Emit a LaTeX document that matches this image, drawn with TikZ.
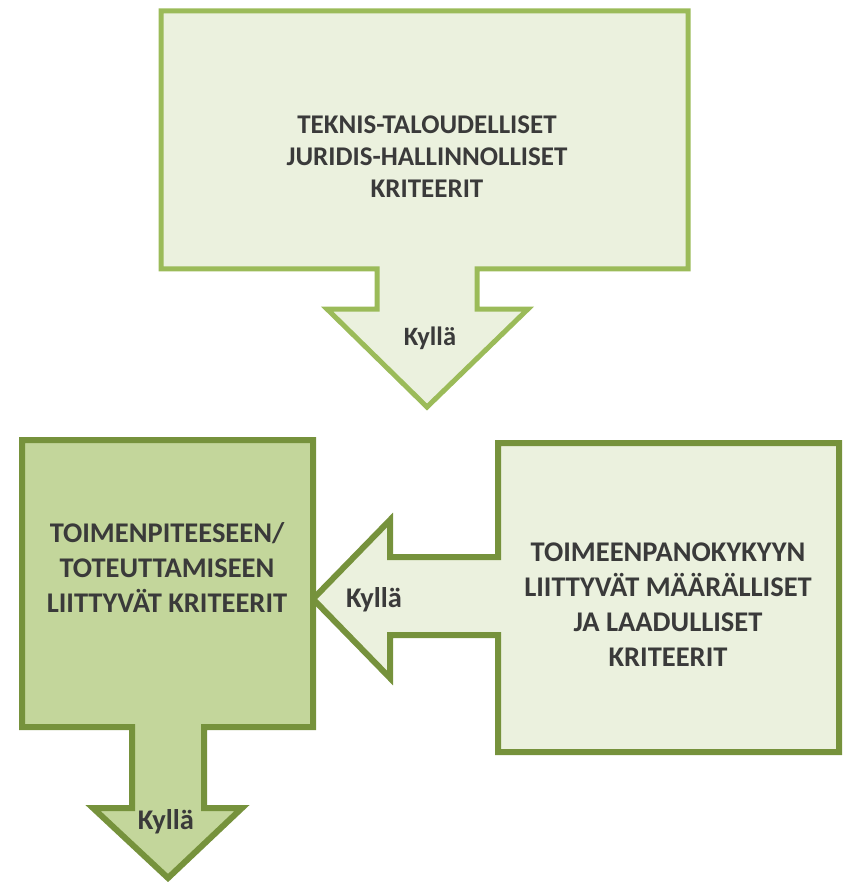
\documentclass[tikz,border=0pt]{standalone}
\usepackage{fontspec}
\setmainfont{Carlito}
\definecolor{lightline}{HTML}{9BBB59}
\definecolor{darkline}{HTML}{76923C}
\definecolor{paleFill}{HTML}{EBF1DE}
\definecolor{midFill}{HTML}{C3D69B}
\definecolor{txt}{HTML}{3A3A3A}
\begin{document}
\begin{tikzpicture}[x=1pt,y=-1pt,
    label/.style={text=txt,font=\fontsize{28.5}{35}\selectfont\bfseries,align=center,inner sep=0pt},
    toplabel/.style={label,font=\fontsize{27}{32}\selectfont\bfseries},
    yes/.style={text=txt,font=\fontsize{28.5}{30}\selectfont\bfseries,inner sep=0pt}]
    \useasboundingbox (0,0) rectangle (845,882);

    \draw[line width=5pt,draw=lightline,fill=paleFill] (161,11) -- (688,11) -- (688,269) -- (477,269) -- (477,309) -- (528,309) -- (427,407) -- (327,309) -- (377,309) -- (377,269) -- (161,269) -- cycle;
    \node[toplabel] at (427,157) (teknis) {TEKNIS-TALOUDELLISET\\JURIDIS-HALLINNOLLISET\\KRITEERIT};
    \node[yes,font=\fontsize{26.5}{30}\selectfont\bfseries] at (430,338) (kylla1) {Kyllä};

    \draw[line width=6pt,draw=darkline,fill=paleFill] (498,443) -- (839,443) -- (839,752) -- (498,752) -- (498,635) -- (390,635) -- (390,678) -- (313,599) -- (390,520) -- (390,557) -- (498,557) -- cycle;
    \node[label] at (668,605) (toimeenpano) {TOIMEENPANOKYKYYN\\LIITTYVÄT MÄÄRÄLLISET\\JA LAADULLISET\\KRITEERIT};
    \node[yes] at (374,600) (kylla2) {Kyllä};

    \draw[line width=6pt,draw=darkline,fill=midFill] (22,440) -- (313,440) -- (313,727) -- (204,727) -- (204,808) -- (242,808) -- (168,878) -- (93,808) -- (132,808) -- (132,727) -- (22,727) -- cycle;
    \node[label] at (167,567) (toimenpide) {TOIMENPITEESEEN/\\TOTEUTTAMISEEN\\LIITTYVÄT KRITEERIT};
    \node[yes] at (166,822) (kylla3) {Kyllä};
\end{tikzpicture}
\end{document}
